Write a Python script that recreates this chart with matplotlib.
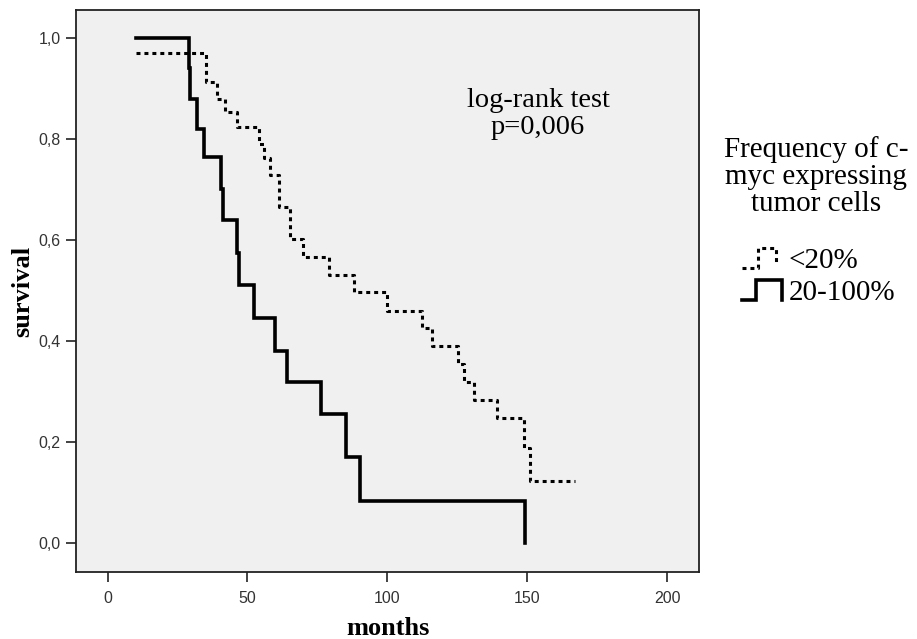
import matplotlib
matplotlib.use('Agg')
import matplotlib.pyplot as plt
from matplotlib.lines import Line2D
from matplotlib.legend_handler import HandlerBase
from matplotlib.ticker import FuncFormatter

# Kaplan-Meier curves (months, cumulative survival)
months_low = [10, 35, 39.2, 42.1, 46.3, 54, 55.8, 58.2, 61.2, 65.1, 69.9, 79, 88,
              99.9, 112.4, 116, 125.1, 127.3, 131.1, 139.2, 148.9, 151.1, 167.1]
surv_low = [0.97, 0.913, 0.88, 0.854, 0.823, 0.791, 0.762, 0.729, 0.666, 0.601,
            0.567, 0.531, 0.498, 0.459, 0.425, 0.39, 0.354, 0.318, 0.283, 0.247,
            0.188, 0.123, 0.123]

months_high = [10, 29.0, 29.6, 32.0, 34.4, 40.4, 41.4, 46.3, 46.9, 52.3, 60.0,
               64.2, 76.1, 85.3, 90.1, 149.3]
surv_high = [1.0, 0.94, 0.88, 0.82, 0.765, 0.70, 0.64, 0.575, 0.51, 0.445, 0.38,
             0.318, 0.255, 0.17, 0.083, 0.0]

labels = ['<20%', '20-100%']
legend_title = 'Frequency of c-\nmyc expressing\ntumor cells'
x_ticks = [0, 50, 100, 150, 200]
y_ticks = [0.0, 0.2, 0.4, 0.6, 0.8, 1.0]

SERIF = 'Liberation Serif'
SANS = 'Liberation Sans'
dotted = (0, (1.3, 1.3))


class StepHandler(HandlerBase):
    # draws a small step shape as legend key, like SPSS does
    def __init__(self, xs, ys, **kw):
        super().__init__()
        self.xs, self.ys, self.kw = xs, ys, kw

    def create_artists(self, legend, orig_handle, xdescent, ydescent,
                       width, height, fontsize, trans):
        x = [-xdescent + width * v for v in self.xs]
        y = [-ydescent + height * v for v in self.ys]
        ln = Line2D(x, y, **self.kw)
        ln.set_transform(trans)
        return [ln]


fig = plt.figure(figsize=(9.17, 6.39), dpi=100)
ax = fig.add_axes([76 / 917, 67 / 639, 623 / 917, 562 / 639])
ax.set_facecolor('#f0f0f0')

h_low, = ax.step(months_low, surv_low, where='post', color='black', lw=2.2,
                 linestyle=dotted, dash_capstyle='butt')
h_high, = ax.step(months_high, surv_high, where='post', color='black', lw=2.6,
                  solid_joinstyle='miter')

ax.set_xlim(-11.3, 211.4)
ax.set_ylim(-0.0574, 1.0554)
ax.set_xticks(x_ticks)
ax.set_yticks(y_ticks)
ax.yaxis.set_major_formatter(FuncFormatter(lambda v, p: f'{v:.1f}'.replace('.', ',')))
ax.tick_params(direction='out', length=7, width=1.2, color='#222222',
               labelsize=11.5, labelcolor='#333333', pad=4)
for lab in ax.get_xticklabels() + ax.get_yticklabels():
    lab.set_fontfamily(SANS)
ax.tick_params(axis='x', pad=7)
for sp in ax.spines.values():
    sp.set_linewidth(1.3)
    sp.set_color('#222222')

ax.set_xlabel('months', fontfamily=SERIF, fontweight='bold', fontsize=19)
ax.set_ylabel('survival', fontfamily=SERIF, fontweight='bold', fontsize=19)
ax.xaxis.label.set_va('center')
ax.yaxis.label.set_va('center')
ax.xaxis.set_label_coords(0.5, -0.1)
ax.yaxis.set_label_coords(-0.085, 0.5)

ax.text(153.9, 0.85, 'log-rank test\np=0,006', ha='center', va='center',
        fontfamily=SERIF, fontsize=20.5, linespacing=1.1)

fig.text(816 / 917, 1 - 177 / 639, legend_title, ha='center', va='center',
         multialignment='center', fontfamily=SERIF, fontsize=21, linespacing=1.05)

hm = {
    h_low: StepHandler([0, 0.4, 0.4, 0.85, 0.85], [0, 0, 1, 1, 0.3], color='black',
                       lw=2.2, linestyle=dotted, dash_capstyle='butt'),
    h_high: StepHandler([0, 0.35, 0.35, 1, 1], [0, 0, 1, 1, 0], color='black',
                        lw=2.6, solid_joinstyle='miter'),
}
leg = fig.legend([h_low, h_high], labels, handler_map=hm, loc='upper left',
                 bbox_to_anchor=(727 / 917, 1 - 233 / 639), frameon=False,
                 borderpad=0, handlelength=1.4, handleheight=0.7,
                 handletextpad=0.2, labelspacing=0.2,
                 prop={'family': SERIF, 'size': 21})

fig.savefig('out.png', dpi=100)
